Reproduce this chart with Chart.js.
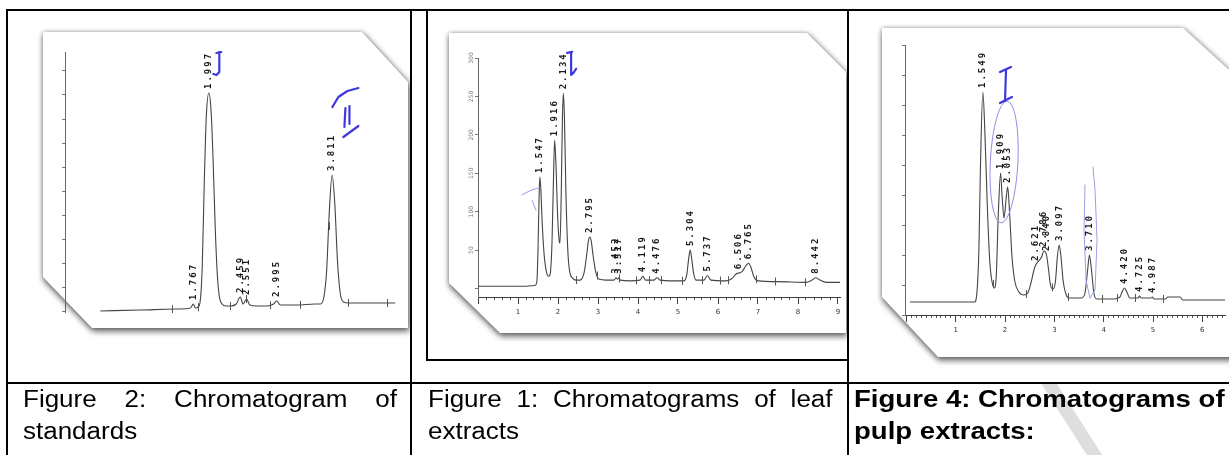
<!DOCTYPE html>
<html>
<head>
<meta charset="utf-8">
<title>Chromatograms</title>
<script src="https://cdn.jsdelivr.net/npm/chart.js@4.4.1/dist/chart.umd.min.js"></script>
<style>
  html, body { margin: 0; padding: 0; background: #fff; }
  body { position: relative; width: 1229px; height: 455px; overflow: hidden;
         font-family: "Liberation Sans", Arial, sans-serif; }
  .rule { position: absolute; background: #000; }
  .cell { position: absolute; overflow: hidden; }
  .panel { position: absolute;
           filter: drop-shadow(1px 3px 3px rgba(0,0,0,0.55)) drop-shadow(0 0 2px rgba(0,0,0,0.3)); }
  .paper { position: absolute; left: 0; top: 0; right: 0; bottom: 0; background: #fff; }
  .cell canvas { position: absolute; filter: blur(0.3px); }
  .caption { position: absolute; top: 383px; font-size: 23px; line-height: 32px; color: #000;
             transform: scaleX(1.13); transform-origin: 0 0; white-space: nowrap; z-index: 2; }
  .caption .row { display: flex; justify-content: space-between; }
  .watermark { position: absolute; left: 1040px; top: 384px; width: 100px; height: 71px; overflow: hidden; z-index: 1; }
  .watermark div { position: absolute; left: 25px; top: -20px; width: 13px; height: 110px;
                   background: #dedede; transform: rotate(-32.6deg); }
</style>
</head>
<body>
  <!-- table rules -->
  <div class="rule" style="left:7px;top:9px;width:1222px;height:2px"></div>
  <div class="rule" style="left:6px;top:9px;width:2px;height:446px"></div>
  <div class="rule" style="left:410px;top:9px;width:2px;height:446px"></div>
  <div class="rule" style="left:847px;top:9px;width:2px;height:446px"></div>
  <div class="rule" style="left:426px;top:9px;width:2px;height:351px"></div>
  <div class="rule" style="left:426px;top:359px;width:423px;height:2px"></div>
  <div class="rule" style="left:7px;top:382px;width:1222px;height:2px"></div>

  <!-- Figure 2 cell -->
  <div class="cell" style="left:8px;top:11px;width:402px;height:371px">
    <div class="panel" style="left:35px;top:21px;width:365px;height:296px">
      <div class="paper" style="clip-path:polygon(0 0,319px 0,365px 50px,365px 296px,49px 296px,0 245px)"></div>
    </div>
    <canvas id="stdChart" width="365" height="290" style="left:35px;top:21px"></canvas>
  </div>

  <!-- Figure 1 cell -->
  <div class="cell" style="left:428px;top:11px;width:419px;height:348px">
    <div class="panel" style="left:21px;top:22px;width:397px;height:300px">
      <div class="paper" style="clip-path:polygon(0 0,358px 0,397px 39px,397px 300px,51px 300px,0 250px)"></div>
    </div>
    <canvas id="leafChart" width="397" height="295" style="left:21px;top:24px"></canvas>
  </div>

  <!-- Figure 4 cell -->
  <div class="cell" style="left:849px;top:11px;width:380px;height:371px">
    <div class="panel" style="left:33px;top:17px;width:358px;height:329px">
      <div class="paper" style="clip-path:polygon(0 0,301px 0,358px 52px,358px 329px,56px 329px,0 269px)"></div>
    </div>
    <canvas id="pulpChart" width="347" height="325" style="left:33px;top:17px"></canvas>
  </div>

  <div class="watermark"><div></div></div>

  <div class="caption" style="left:23px">
    <div class="row" style="width:331px"><span>Figure</span><span>2:</span><span>Chromatogram</span><span>of</span></div>
    <div>standards</div>
  </div>
  <div class="caption" style="left:428px">
    <div class="row" style="width:358px"><span>Figure</span><span>1:</span><span>Chromatograms</span><span>of</span><span>leaf</span></div>
    <div>extracts</div>
  </div>
  <div class="caption" style="left:854px;font-weight:bold;font-size:24.4px">
    <div>Figure 4: Chromatograms of</div>
    <div>pulp extracts:</div>
  </div>

<script>
// Figure 2: standards (retention time in min, detector signal)
const stdTime = [0.40, 1.00, 1.50, 1.70, 1.74, 1.767, 1.80, 1.84, 1.87, 1.90, 1.93, 1.96, 1.997, 2.03, 2.06,
  2.09, 2.12, 2.15, 2.19, 2.25, 2.32, 2.40, 2.459, 2.50, 2.551, 2.60, 2.70, 2.85, 2.95, 2.995, 3.05, 3.30,
  3.55, 3.64, 3.69, 3.73, 3.77, 3.811, 3.85, 3.89, 3.93, 3.98, 4.05, 4.40, 4.74];
const stdSignal = [0, 1, 2, 2.5, 4, 7, 3, 4, 10, 45, 130, 195, 218, 200, 150,
  85, 38, 15, 7, 5, 5, 7, 14, 7, 12, 6, 5, 5, 7, 10, 6, 6,
  7, 7, 14, 40, 100, 136, 108, 50, 18, 9, 8, 8, 8];
const stdPeaks = ["1.767", "1.997", "2.459", "2.551", "2.995", "3.811"];
const stdEvents = [1.46, 1.83, 2.31, 2.55, 2.89, 3.34, 3.76, 4.04, 4.62];

// Figure 1: leaf extracts
const leafTime = [0.00, 0.60, 1.20, 1.42, 1.47, 1.50, 1.53, 1.547, 1.57, 1.61, 1.66, 1.71, 1.76, 1.80, 1.85,
  1.89, 1.916, 1.95, 1.99, 2.03, 2.05, 2.08, 2.11, 2.134, 2.16, 2.20, 2.25, 2.30, 2.36, 2.45, 2.55, 2.65,
  2.72, 2.76, 2.795, 2.83, 2.88, 2.95, 3.03, 3.20, 3.40, 3.452, 3.49, 3.517, 3.56, 3.80, 4.05, 4.119, 4.19,
  4.40, 4.476, 4.55, 4.90, 5.15, 5.22, 5.26, 5.304, 5.34, 5.39, 5.45, 5.65, 5.737, 5.82, 6.20, 6.35, 6.45,
  6.506, 6.60, 6.70, 6.765, 6.82, 6.90, 7.00, 7.50, 8.20, 8.35, 8.442, 8.55, 8.70, 9.05];
const leafSignal = [3, 3, 3, 4, 8, 50, 125, 145, 130, 80, 40, 22, 16, 18, 60,
  150, 193, 160, 95, 62, 59, 120, 220, 254, 225, 120, 45, 20, 14, 11, 11, 20,
  45, 62, 67, 62, 42, 20, 12, 11, 11, 14, 12, 14, 11, 10, 11, 16, 11,
  11, 14, 11, 10, 10, 18, 36, 50, 40, 20, 11, 11, 17, 11, 10, 13, 19,
  20, 22, 30, 33, 28, 15, 10, 9, 8, 11, 14, 11, 8, 8];
const leafPeaks = ["1.547", "1.916", "2.134", "2.795", "3.452", "3.517", "4.119", "4.476", "5.304",
  "5.737", "6.506", "6.765", "8.442"];
const leafEvents = [2.45, 2.98, 3.53, 3.96, 4.28, 4.58, 5.09, 5.59, 6.04, 6.24, 6.96, 7.42, 8.17];
const leafYTicks = [50, 100, 150, 200, 250, 300];

// Figure 4: pulp extracts
const pulpTime = [0.07, 0.80, 1.38, 1.43, 1.47, 1.50, 1.549, 1.59, 1.64, 1.69, 1.74, 1.78, 1.82, 1.86, 1.909,
  1.94, 1.98, 2.02, 2.053, 2.09, 2.14, 2.20, 2.28, 2.38, 2.46, 2.53, 2.58, 2.621, 2.68, 2.74, 2.786, 2.84,
  2.88, 2.92, 2.97, 3.02, 3.06, 3.097, 3.13, 3.18, 3.24, 3.30, 3.55, 3.62, 3.67, 3.710, 3.75, 3.80, 3.86,
  4.20, 4.33, 4.38, 4.420, 4.47, 4.53, 4.70, 4.725, 4.76, 4.96, 4.987, 5.02, 5.25, 5.30, 5.55, 5.60, 6.46];
const pulpSignal = [5, 5, 5, 15, 60, 140, 215, 175, 100, 45, 24, 19, 30, 90, 134,
  110, 89, 108, 120, 95, 50, 25, 15, 12, 14, 25, 36, 42, 46, 50, 56, 52,
  38, 22, 18, 25, 50, 62, 52, 25, 12, 9, 9, 14, 35, 52, 38, 14, 8,
  8, 10, 16, 19, 15, 9, 9, 11, 9, 9, 10, 8, 8, 10, 10, 7, 7];
const pulpPeaks = ["1.549", "1.909", "2.053", "2.621", "2.786", "2.840", "3.097", "3.710", "4.420",
  "4.725", "4.987"];
const pulpEvents = [1.75, 2.42, 2.95, 3.28, 3.97, 4.27, 4.64, 5.20];

// handwritten pen marks, in data units (time, signal)
const stdInk = [
  [[2.107, 258], [2.180, 259]],
  [[2.151, 259], [2.151, 239], [2.110, 236], [2.063, 237]],
  [[3.815, 204], [3.903, 214], [4.036, 220], [4.198, 223]],
  [[4.007, 203], [3.992, 184]],
  [[4.066, 205], [4.066, 187]],
  [[3.977, 174], [4.198, 185]],
];
const leafInk = [
  [[2.228, 306.6], [2.353, 307.9]],
  [[2.328, 307], [2.328, 278], [2.39, 281], [2.454, 286]],
];
const leafInkFaint = [
  [[1.10, 122], [1.326, 128], [1.526, 131]],
  [[1.351, 115], [1.451, 102]],
];
const pulpInk = [
  [[1.897, 235], [2.120, 240]],
  [[2.019, 237], [1.998, 206]],
  [[1.897, 204], [2.140, 210]],
];
const pulpInkFaint = [
  [[3.621, 122], [3.601, 77], [3.641, 27], [3.722, 9], [3.824, 17], [3.865, 67], [3.824, 117], [3.783, 140]],
];
const pulpRing = [1.98, 145, 0.28, 61]; // centre time, centre signal, half width, half height

document.addEventListener("DOMContentLoaded", () => {
  drawChromatogram("stdChart", {
    time: stdTime, signal: stdSignal, peaks: stdPeaks, events: stdEvents,
    ink: stdInk, inkFaint: [], ring: null, yLabels: null,
    xMin: -0.12, xMax: 4.81, yMin: -1, yMax: 259, yStep: 24,
    ruler: false, minorStep: 0.2, yWidth: 22,
    padding: { left: 0, top: 20, right: 8, bottom: 10 },
  });
  drawChromatogram("leafChart", {
    time: leafTime, signal: leafSignal, peaks: leafPeaks, events: leafEvents,
    ink: leafInk, inkFaint: leafInkFaint, ring: null, yLabels: leafYTicks,
    xMin: 0, xMax: 9.05, yMin: -11, yMax: 300, yStep: 50,
    ruler: true, minorStep: 0.2, yWidth: 29,
    padding: { left: 0, top: 23, right: 6, bottom: 9 },
  });
  drawChromatogram("pulpChart", {
    time: pulpTime, signal: pulpSignal, peaks: pulpPeaks, events: pulpEvents,
    ink: pulpInk, inkFaint: pulpInkFaint, ring: pulpRing, yLabels: null,
    xMin: -0.03, xMax: 6.46, yMin: -8, yMax: 262, yStep: 30,
    ruler: true, minorStep: 0.1, yWidth: 23,
    padding: { left: 0, top: 17, right: 4, bottom: 14 },
  });
});

// signal level of the trace at time t (for placing integrator marks)
function levelAt(time, signal, t) {
  for (let i = 1; i < time.length; i++) {
    if (time[i] >= t) {
      const f = (t - time[i - 1]) / (time[i] - time[i - 1]);
      return signal[i - 1] + f * (signal[i] - signal[i - 1]);
    }
  }
  return signal[signal.length - 1];
}

// highest recorded point close to a labelled retention time
function peakTop(time, signal, t) {
  let top = levelAt(time, signal, t);
  time.forEach((v, i) => {
    if (Math.abs(v - t) <= 0.035) top = Math.max(top, signal[i]);
  });
  return top;
}

function strokeInk(ctx, x, y, lines, color, width) {
  ctx.strokeStyle = color;
  ctx.lineWidth = width;
  ctx.lineCap = "round";
  ctx.lineJoin = "round";
  lines.forEach((pts) => {
    ctx.beginPath();
    pts.forEach(([t, v], i) => {
      const px = x.getPixelForValue(t), py = y.getPixelForValue(v);
      if (i === 0) ctx.moveTo(px, py); else ctx.lineTo(px, py);
    });
    ctx.stroke();
  });
}

// integrator printout: event marks, retention labels, pen marks
function printoutPlugin(d) {
  return {
    id: "printout",
    afterDatasetsDraw(chart) {
      const { ctx, chartArea } = chart;
      const x = chart.scales.x, y = chart.scales.y;
      ctx.save();

      ctx.strokeStyle = "#555";
      ctx.lineWidth = 1;
      d.events.forEach((t) => {
        const px = Math.round(x.getPixelForValue(t)) + 0.5;
        const py = y.getPixelForValue(levelAt(d.time, d.signal, t));
        ctx.beginPath();
        ctx.moveTo(px, py - 4);
        ctx.lineTo(px, py + 4);
        ctx.stroke();
      });

      ctx.fillStyle = "#1a1a1a";
      ctx.font = 'bold 9px "DejaVu Sans Mono"';
      ctx.letterSpacing = "2px";
      ctx.textAlign = "left";
      ctx.textBaseline = "middle";
      d.peaks.forEach((lbl) => {
        const t = Number(lbl);
        const px = x.getPixelForValue(t);
        const py = y.getPixelForValue(peakTop(d.time, d.signal, t)) - 4;
        ctx.save();
        ctx.translate(px, py);
        ctx.rotate(-Math.PI / 2);
        ctx.fillText(lbl, 0, 0);
        ctx.restore();
      });
      ctx.letterSpacing = "0px";

      if (d.yLabels) {
        ctx.fillStyle = "#777";
        ctx.font = "6px 'DejaVu Sans'";
        ctx.textAlign = "center";
        d.yLabels.forEach((v) => {
          ctx.save();
          ctx.translate(chartArea.left - 7, y.getPixelForValue(v));
          ctx.rotate(-Math.PI / 2);
          ctx.fillText(String(v), 0, 0);
          ctx.restore();
        });
      }

      if (d.ring) {
        const [ct, cv, rt, rv] = d.ring;
        const cx = x.getPixelForValue(ct), cy = y.getPixelForValue(cv);
        const rx = Math.abs(x.getPixelForValue(ct + rt) - cx);
        const ry = Math.abs(y.getPixelForValue(cv + rv) - cy);
        ctx.strokeStyle = "#8e8ee8";
        ctx.lineWidth = 1;
        ctx.beginPath();
        ctx.ellipse(cx, cy, rx, ry, 0.05, 0, Math.PI * 2);
        ctx.stroke();
      }
      strokeInk(ctx, x, y, d.inkFaint, "#9a9ee9", 1);
      strokeInk(ctx, x, y, d.ink, "#3f38dc", 2.2);
      ctx.restore();
    },
  };
}

function drawChromatogram(id, d) {
  const ctx = document.getElementById(id).getContext("2d");
  const scales = {
    x: {
      type: "linear",
      min: d.xMin,
      max: d.xMax,
      display: d.ruler,
      afterFit: (s) => { s.height = 0; },
      ticks: { display: false, stepSize: d.minorStep, autoSkip: false, includeBounds: false },
      grid: { drawOnChartArea: false, tickLength: 3, color: "#555" },
      border: { display: true, color: "#3c3c3c", width: 1 },
    },
    y: {
      type: "linear",
      min: d.yMin,
      max: d.yMax,
      afterFit: (s) => { s.width = d.yWidth; },
      ticks: { display: false, stepSize: d.yStep, includeBounds: false },
      grid: { drawOnChartArea: false, tickLength: 3, color: "#777" },
      border: { display: true, color: "#666", width: 1, dash: [2, 2] },
    },
  };
  if (d.ruler) {
    scales.x2 = {
      type: "linear",
      axis: "x",
      position: "bottom",
      min: d.xMin,
      max: d.xMax,
      afterFit: (s) => { s.height = 24; },
      ticks: {
        stepSize: 1,
        autoSkip: false,
        includeBounds: false,
        padding: 4,
        color: "#333",
        font: { size: 7, family: "DejaVu Sans" },
        callback: (v) => (v >= 1 ? String(v) : ""),
      },
      grid: { drawOnChartArea: false, tickLength: 7, color: "#444" },
      border: { display: false },
    };
  }

  new Chart(ctx, {
    type: "line",
    data: {
      datasets: [
        {
          label: "Detector signal",
          data: d.time.map((t, i) => ({ x: t, y: d.signal[i] })),
          borderColor: "#444",
          borderWidth: 1.1,
          pointRadius: 0,
          cubicInterpolationMode: "monotone",
          fill: false,
        },
      ],
    },
    options: {
      responsive: false,
      animation: false,
      devicePixelRatio: 1,
      layout: { padding: d.padding },
      plugins: { legend: { display: false }, tooltip: { enabled: false } },
      scales: scales,
    },
    plugins: [printoutPlugin(d)],
  });
}
</script>
</body>
</html>
